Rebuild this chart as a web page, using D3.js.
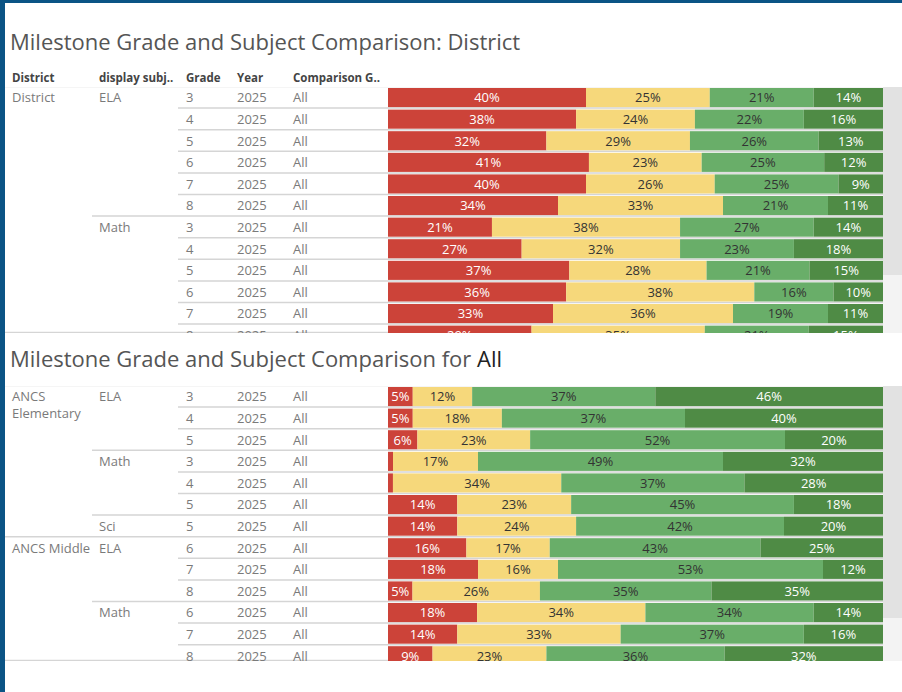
<!DOCTYPE html>
<html>
<head>
<meta charset="utf-8">
<script src="https://cdn.jsdelivr.net/npm/d3@7"></script>
<style>
body { margin: 0; background: #fff; }
svg { display: block; font-family: "Open Sans", sans-serif; }
</style>
</head>
<body>
<svg width="902" height="692"></svg>
<script>
// achievement levels, left to right
var levels = ["Beginning", "Developing", "Proficient", "Distinguished"];
var levelColors = ["#cc4339", "#f6d87b", "#69ae69", "#4f8b45"];
var levelInk = ["#fff", "#333", "#333", "#fff"];

var headers = ["District", "display subj..", "Grade", "Year", "Comparison G.."];
var year = "2025";
var comparison = "All";

// panel 1: district
var districtSchools = ["District","District","District","District","District","District",
	"District","District","District","District","District","District"];
var districtSubjects = ["ELA","ELA","ELA","ELA","ELA","ELA","Math","Math","Math","Math","Math","Math"];
var districtGrades = [3,4,5,6,7,8,3,4,5,6,7,8];
var districtValues = [
	[40,25,21,14],[38,24,22,16],[32,29,26,13],[41,23,25,12],[40,26,25,9],[34,33,21,11],
	[21,38,27,14],[27,32,23,18],[37,28,21,15],[36,38,16,10],[33,36,19,11],[29,35,21,15]
];

// panel 2: schools
var schoolSchools = ["ANCS Elementary","ANCS Elementary","ANCS Elementary","ANCS Elementary",
	"ANCS Elementary","ANCS Elementary","ANCS Elementary",
	"ANCS Middle","ANCS Middle","ANCS Middle","ANCS Middle","ANCS Middle","ANCS Middle"];
var schoolSubjects = ["ELA","ELA","ELA","Math","Math","Math","Sci","ELA","ELA","ELA","Math","Math","Math"];
var schoolGrades = [3,4,5,3,4,5,5,6,7,8,6,7,8];
var schoolValues = [
	[5,12,37,46],[5,18,37,40],[6,23,52,20],[1,17,49,32],[1,34,37,28],[14,23,45,18],[14,24,42,20],
	[16,17,43,25],[18,16,53,12],[5,26,35,35],[18,34,34,14],[14,33,37,16],[9,23,36,32]
];

var svg = d3.select("svg");
var colX = [12, 99, 186, 237, 293];
var barLeft = 388, barRight = 883;

function panel(id, schools, subjects, grades, values, top, step, bottom, thumbEnd) {
	var g = svg.append("g").attr("class", id);
	g.append("clipPath").attr("id", "clip-" + id)
		.append("rect").attr("x", 0).attr("y", top).attr("width", 902).attr("height", bottom - top);
	var body = g.append("g").attr("clip-path", "url(#clip-" + id + ")");

	// scrollbar track + thumb
	body.append("rect").attr("x", barRight).attr("y", top).attr("width", 902 - barRight).attr("height", bottom - top).attr("fill", "#f3f3f3");
	body.append("rect").attr("x", barRight).attr("y", top).attr("width", 902 - barRight).attr("height", thumbEnd - top).attr("fill", "#e2e2e2");

	var idx = d3.range(values.length);
	var y = d3.scaleBand().domain(idx).range([top, top + step * values.length]);
	var x = d3.scaleLinear().domain([0, 1]).range([barLeft, barRight]);

	var rows = idx.map(function(i) {
		var r = {i: i};
		levels.forEach(function(l, k) { r[l] = values[i][k]; });
		return r;
	});
	var series = d3.stack().keys(levels).offset(d3.stackOffsetExpand)(rows);

	// separators between rows
	idx.forEach(function(i) {
		var start = 178;
		if (i == 0 || schools[i] != schools[i-1]) start = 5;
		else if (subjects[i] != subjects[i-1]) start = 92;
		body.append("line").attr("x1", start).attr("x2", barRight)
			.attr("y1", y(i) - 0.5).attr("y2", y(i) - 0.5)
			.attr("stroke", "#d5d5d5").attr("stroke-width", 1.5);
	});
	body.append("line").attr("x1", 5).attr("x2", barRight)
		.attr("y1", bottom - 0.5).attr("y2", bottom - 0.5).attr("stroke", "#d5d5d5").attr("stroke-width", 1.5);

	// bars
	series.forEach(function(s, k) {
		body.append("g").selectAll("rect").data(s).enter().append("rect")
			.attr("x", function(d) { return x(d[0]); })
			.attr("y", function(d) { return y(d.data.i) + 1; })
			.attr("width", function(d) { return x(d[1]) - x(d[0]); })
			.attr("height", y.bandwidth() - 2.5)
			.attr("fill", levelColors[k]);
		body.append("g").selectAll("text").data(s.filter(function(d) { return x(d[1]) - x(d[0]) > 14; }))
			.enter().append("text")
			.attr("x", function(d) { return (x(d[0]) + x(d[1])) / 2; })
			.attr("y", function(d) { return y(d.data.i) + y.bandwidth() / 2 + 4.5; })
			.attr("text-anchor", "middle")
			.attr("font-size", 13)
			.attr("fill", levelInk[k])
			.text(function(d) { return d.data[levels[k]] + "%"; });
	});

	// table text
	var t = body.append("g").attr("font-size", 13).attr("fill", "#7a7a7a");
	idx.forEach(function(i) {
		var cy = y(i) + y.bandwidth() / 2 + 4.5;
		if (i == 0 || schools[i] != schools[i-1]) {
			var words = schools[i] == "ANCS Elementary" ? ["ANCS", "Elementary"] : [schools[i]];
			words.forEach(function(w, j) {
				t.append("text").attr("x", colX[0]).attr("y", cy + j * 17).text(w);
			});
		}
		if (i == 0 || subjects[i] != subjects[i-1] || schools[i] != schools[i-1])
			t.append("text").attr("x", colX[1]).attr("y", cy).text(subjects[i]);
		t.append("text").attr("x", colX[2]).attr("y", cy).text(grades[i]);
		t.append("text").attr("x", colX[3]).attr("y", cy).text(year);
		t.append("text").attr("x", colX[4]).attr("y", cy).text(comparison);
	});
}

// frame
svg.append("rect").attr("x", 0).attr("y", 0).attr("width", 902).attr("height", 3).attr("fill", "#0b5485");
svg.append("rect").attr("x", 0).attr("y", 0).attr("width", 5).attr("height", 692).attr("fill", "#0b5485");

// titles
svg.append("text").attr("x", 10).attr("y", 50).attr("font-size", 22).attr("fill", "#555")
	.text("Milestone Grade and Subject Comparison: District");
var t2 = svg.append("text").attr("x", 10).attr("y", 367).attr("font-size", 22).attr("fill", "#555")
	.text("Milestone Grade and Subject Comparison for ");
t2.append("tspan").attr("fill", "#222").text("All");

// header row
svg.append("g").selectAll("text").data(headers).enter().append("text")
	.attr("x", function(d, i) { return colX[i]; })
	.attr("y", 82)
	.attr("font-size", 11.5).attr("font-weight", 700).attr("fill", "#444")
	.text(function(d) { return d; });

panel("district", districtSchools, districtSubjects, districtGrades, districtValues, 87, 21.6, 333, 275);
panel("schools", schoolSchools, schoolSubjects, schoolGrades, schoolValues, 386, 21.6, 661, 618);
</script>
</body>
</html>
